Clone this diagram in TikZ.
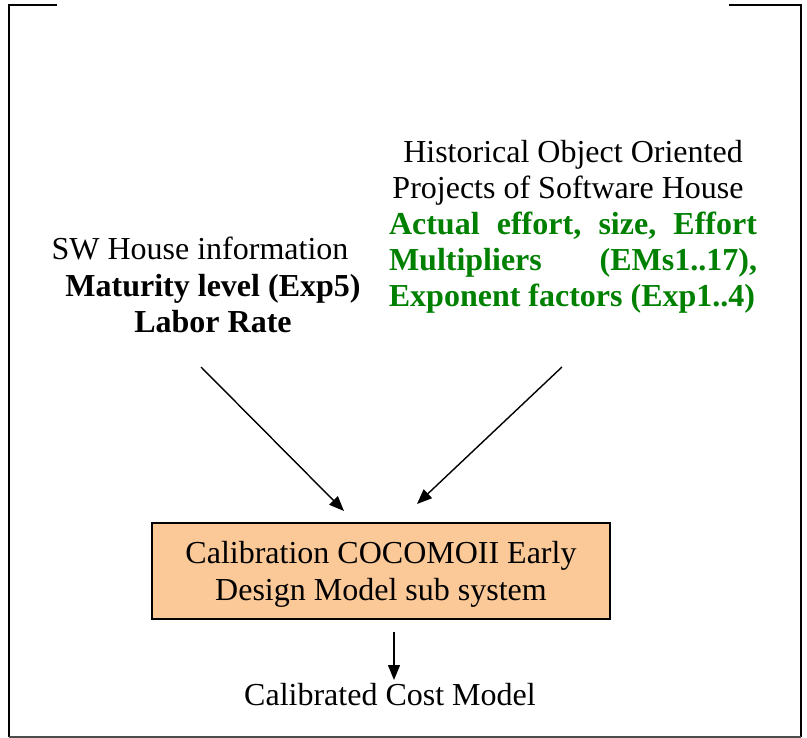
\documentclass[tikz,border=0pt]{standalone}
\usepackage{fontspec}
\setmainfont{Liberation Serif}
\usetikzlibrary{arrows.meta}
\definecolor{peach}{RGB}{251,200,152}
\definecolor{dgreen}{RGB}{0,128,0}
\tikzset{
  txt/.style={anchor=base, inner sep=0pt, font=\fontsize{32}{37}\selectfont},
  btxt/.style={txt, font=\fontsize{32}{37}\selectfont\bfseries},
  gtxt/.style={btxt, text=dgreen},
  frame/.style={line width=2.4pt},
  flow/.style={line width=1.4pt, -{Triangle[length=15pt,width=12pt]}},
  calbox/.style={draw, line width=2pt, fill=peach, minimum width=458pt, minimum height=96pt, inner sep=0pt}
}
\begin{document}
\begin{tikzpicture}[x=1pt, y=-1pt]
\useasboundingbox (0,0) rectangle (807,738);
% outer frame
\draw[frame] (57,5) -- (9,5) -- (9,737);
\draw[frame] (729,5) -- (801,5) -- (801,737);
\draw[line width=1.2pt, black!70] (9,737) -- (801,737);

% software house inputs
\node[txt] (sw) at (200,260) {SW House information};
\node[btxt] (mat) at (213,297) {Maturity level (Exp5)};
\node[btxt] (lab) at (213,333) {Labor Rate};

% historical project inputs
\node[txt] (hist) at (573,163) {Historical Object Oriented};
\node[txt] (proj) at (568,199) {Projects of Software House};
\node[gtxt] (act) at (573,235) {\hbox to 368pt{Actual\hfil effort,\hfil size,\hfil Effort}};
\node[gtxt] (mult) at (573,271) {\hbox to 368pt{Multipliers\hfil (EMs1..17),}};
\node[gtxt] (expo) at (572,307) {Exponent factors (Exp1..4)};

% calibration subsystem
\node[calbox] (cal) at (381,571) {};
\node[txt] (cal1) at (381,563) {Calibration COCOMOII Early};
\node[txt] (cal2) at (381,600) {Design Model sub system};

% output
\node[txt] (out) at (390,705) {Calibrated Cost Model};

% connectors
\coordinate (la) at (201,367);
\coordinate (lb) at (344,511);
\coordinate (ra) at (562,367);
\coordinate (rb) at (417,504);
\coordinate (oa) at (394,632);
\coordinate (ob) at (394,680);
\draw[flow] (la) -- (lb);
\draw[flow] (ra) -- (rb);
\draw[flow] (oa) -- (ob);
\end{tikzpicture}
\end{document}
